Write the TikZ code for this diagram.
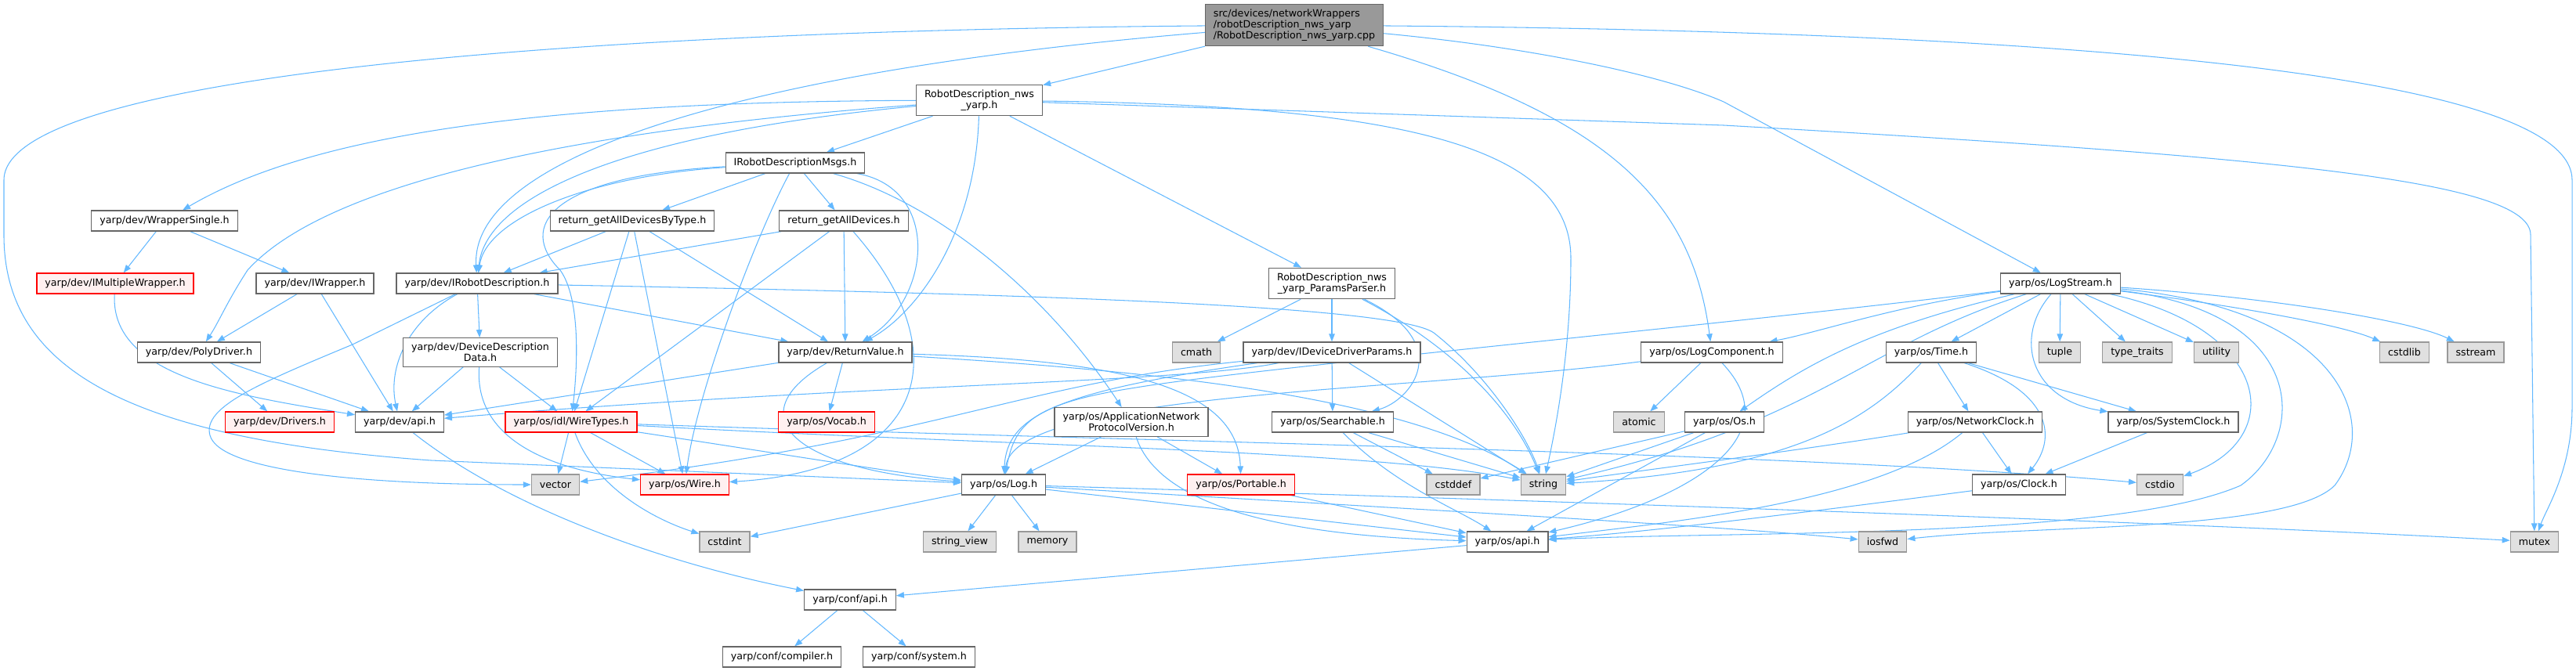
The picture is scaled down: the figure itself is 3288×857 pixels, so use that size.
\documentclass[tikz,border=0pt]{standalone}
\usepackage{fontspec}
\setmainfont{DejaVu Sans}
\usetikzlibrary{arrows.meta}
\pgfdeclarelayer{edges}
\pgfsetlayers{edges,main}
\definecolor{depblue}{HTML}{63B8FF}
\definecolor{boxgray}{HTML}{666666}
\definecolor{mainfill}{HTML}{999999}
\definecolor{sysfill}{HTML}{E0E0E0}
\definecolor{sysline}{HTML}{999999}
\definecolor{truncfill}{HTML}{FFF0F0}
\definecolor{truncline}{HTML}{FF0000}
\begin{document}
\begin{tikzpicture}
	  [
	    x                       = 0.02cm,
	    y                       = -0.02cm,
	    every node/.style       = {font=\fontsize{7.2}{8}\selectfont},
	    file/.style             = {draw=boxgray, fill=white, line width=0.7pt, inner xsep=6pt, inner ysep=3.6pt, minimum height=0.52cm, align=center},
	    mainfile/.style         = {file, fill=mainfill, align=left},
	    sysfile/.style          = {file, draw=sysline, fill=sysfill},
	    truncfile/.style        = {file, draw=truncline, fill=truncfill},
	    dep/.style              = {draw=depblue, line width=0.6pt, -{Triangle[length=0.2cm, width=0.15cm]}}
	  ]
	  \useasboundingbox (0,0) rectangle (3288,857);
	  \node[mainfile]  (main)       at (1652,32)  {src/devices/networkWrappers\\/robotDescription\_nws\_yarp\\/RobotDescription\_nws\_yarp.cpp};
	  \node[file]      (nws)        at (1250,128) {RobotDescription\_nws\\\_yarp.h};
	  \node[file]      (msgs)       at (1015,208) {IRobotDescriptionMsgs.h};
	  \node[file]      (wsingle)    at (210,282)  {yarp/dev/WrapperSingle.h};
	  \node[file]      (bytype)     at (807,282)  {return\_getAllDevicesByType.h};
	  \node[file]      (alldev)     at (1077,282) {return\_getAllDevices.h};
	  \node[truncfile] (imwrap)     at (147,362)  {yarp/dev/IMultipleWrapper.h};
	  \node[file]      (iwrap)      at (402,362)  {yarp/dev/IWrapper.h};
	  \node[file]      (irobot)     at (609,362)  {yarp/dev/IRobotDescription.h};
	  \node[file]      (params)     at (1700,362) {RobotDescription\_nws\\\_yarp\_ParamsParser.h};
	  \node[file]      (logstream)  at (2630,362) {yarp/os/LogStream.h};
	  \node[file]      (poly)       at (254,450)  {yarp/dev/PolyDriver.h};
	  \node[file]      (ddd)        at (613,450)  {yarp/dev/DeviceDescription\\Data.h};
	  \node[file]      (retval)     at (1079,450) {yarp/dev/ReturnValue.h};
	  \node[sysfile]   (cmath)      at (1527,450) {cmath};
	  \node[file]      (iddp)       at (1700,450) {yarp/dev/IDeviceDriverParams.h};
	  \node[file]      (logcomp)    at (2185,450) {yarp/os/LogComponent.h};
	  \node[file]      (time)       at (2465,450) {yarp/os/Time.h};
	  \node[sysfile]   (tuple)      at (2629,450) {tuple};
	  \node[sysfile]   (typetr)     at (2728,450) {type\_traits};
	  \node[sysfile]   (utility)    at (2829,450) {utility};
	  \node[sysfile]   (cstdlib)    at (3069,450) {cstdlib};
	  \node[sysfile]   (sstream)    at (3160,450) {sstream};
	  \node[truncfile] (drivers)    at (357,539)  {yarp/dev/Drivers.h};
	  \node[file]      (devapi)     at (510,539)  {yarp/dev/api.h};
	  \node[truncfile] (wiretypes)  at (729,539)  {yarp/os/idl/WireTypes.h};
	  \node[truncfile] (vocab)      at (1055,539) {yarp/os/Vocab.h};
	  \node[file]      (anpv)       at (1444,539) {yarp/os/ApplicationNetwork\\ProtocolVersion.h};
	  \node[file]      (searchable) at (1701,539) {yarp/os/Searchable.h};
	  \node[sysfile]   (atomic)     at (2092,539) {atomic};
	  \node[file]      (os)         at (2201,539) {yarp/os/Os.h};
	  \node[file]      (netclock)   at (2521,539) {yarp/os/NetworkClock.h};
	  \node[file]      (sysclock)   at (2774,539) {yarp/os/SystemClock.h};
	  \node[sysfile]   (vectorh)    at (709,619)  {vector};
	  \node[truncfile] (wire)       at (874,619)  {yarp/os/Wire.h};
	  \node[file]      (log)        at (1281,619) {yarp/os/Log.h};
	  \node[truncfile] (portable)   at (1584,619) {yarp/os/Portable.h};
	  \node[sysfile]   (cstddef)    at (1855,619) {cstddef};
	  \node[sysfile]   (stringh)    at (1970,619) {string};
	  \node[file]      (clock)      at (2577,619) {yarp/os/Clock.h};
	  \node[sysfile]   (cstdio)     at (2757,619) {cstdio};
	  \node[sysfile]   (cstdint)    at (925,692)  {cstdint};
	  \node[sysfile]   (strview)    at (1225,692) {string\_view};
	  \node[sysfile]   (memory)     at (1337,692) {memory};
	  \node[file]      (osapi)      at (1924,692) {yarp/os/api.h};
	  \node[sysfile]   (iosfwd)     at (2403,692) {iosfwd};
	  \node[sysfile]   (mutex)      at (3235,692) {mutex};
	  \node[file]      (confapi)    at (1085,766) {yarp/conf/api.h};
	  \node[file]      (compiler)   at (998,839)  {yarp/conf/compiler.h};
	  \node[file]      (system)     at (1173,839) {yarp/conf/system.h};

	  \begin{pgfonlayer}{edges}
	  \draw[dep] (main) -- (nws);
	  \draw[dep] (main) .. controls (950,90) and (600,200) .. (irobot);
	  \draw[dep] (main) .. controls (700,40) and (5,100) .. (5,230) -- (5,300) .. controls (5,470) and (160,560) .. (550,588) -- (log);
	  \draw[dep] (main) .. controls (2060,150) and (2160,260) .. (logcomp);
	  \draw[dep] (main) .. controls (1950,60) and (2120,95) .. (2200,130) -- (logstream);
	  \draw[dep] (main) .. controls (2600,40) and (3283,90) .. (3283,230) -- (3283,520) .. controls (3283,600) and (3250,650) .. (mutex);

	  \draw[dep] (nws) .. controls (700,130) and (400,170) .. (wsingle);
	  \draw[dep] (nws) .. controls (750,165) and (420,230) .. (316,345) .. controls (290,385) and (280,410) .. (poly);
	  \draw[dep] (nws) .. controls (800,170) and (620,250) .. (irobot);
	  \draw[dep] (nws) -- (msgs);
	  \draw[dep] (nws) .. controls (1245,300) and (1170,400) .. (retval);
	  \draw[dep] (nws) -- (params);
	  \draw[dep] (nws) .. controls (1800,135) and (2005,190) .. (2005,330) .. controls (2005,450) and (1985,550) .. (stringh);
	  \draw[dep] (nws) -- (2200,160) .. controls (2900,200) and (3230,230) .. (3230,300) -- (mutex);

	  \draw[dep] (msgs) -- (bytype);
	  \draw[dep] (msgs) -- (alldev);
	  \draw[dep] (msgs) .. controls (750,225) and (620,280) .. (irobot);
	  \draw[dep] (msgs) .. controls (700,225) and (660,290) .. (715,345) .. controls (740,380) and (738,460) .. (wiretypes);
	  \draw[dep] (msgs) .. controls (965,300) and (890,500) .. (wire);
	  \draw[dep] (msgs) .. controls (1200,260) and (1340,380) .. (anpv);
	  \draw[dep] (msgs) .. controls (1200,240) and (1190,380) .. (retval);

	  \draw[dep] (bytype) -- (irobot);
	  \draw[dep] (bytype) -- (wiretypes);
	  \draw[dep] (bytype) -- (wire);
	  \draw[dep] (bytype) -- (retval);
	  \draw[dep] (alldev) -- (irobot);
	  \draw[dep] (alldev) -- (wiretypes);
	  \draw[dep] (alldev) -- (retval);
	  \draw[dep] (alldev) .. controls (1225,450) and (1185,600) .. (wire);

	  \draw[dep] (wsingle) -- (imwrap);
	  \draw[dep] (wsingle) -- (iwrap);
	  \draw[dep] (imwrap) .. controls (140,480) and (300,505) .. (devapi);
	  \draw[dep] (iwrap) -- (poly);
	  \draw[dep] (iwrap) -- (devapi);
	  \draw[dep] (poly) -- (drivers);
	  \draw[dep] (poly) -- (devapi);

	  \draw[dep] (irobot) .. controls (1300,375) and (1780,390) .. (1830,425) .. controls (1900,480) and (1950,560) .. (stringh);
	  \draw[dep] (irobot) -- (retval);
	  \draw[dep] (irobot) -- (ddd);
	  \draw[dep] (irobot) .. controls (520,410) and (495,470) .. (devapi);
	  \draw[dep] (irobot) -- (450,440) .. controls (330,490) and (258,520) .. (268,556) .. controls (280,600) and (450,619) .. (vectorh);
	  \draw[dep] (ddd) -- (devapi);
	  \draw[dep] (ddd) .. controls (605,560) and (700,600) .. (wire);
	  \draw[dep] (ddd) -- (wiretypes);

	  \draw[dep] (retval) -- (devapi);
	  \draw[dep] (retval) -- (vocab);
	  \draw[dep] (retval) .. controls (940,530) and (1010,600) .. (log);
	  \draw[dep] (retval) .. controls (1450,460) and (1580,500) .. (portable);
	  \draw[dep] (retval) .. controls (1500,475) and (1800,510) .. (stringh);

	  \draw[dep] (params) -- (cmath);
	  \draw[dep] (params) -- (iddp);
	  \draw[dep] (params) .. controls (1860,440) and (1800,512) .. (searchable);
	  \draw[dep] (params) .. controls (1850,440) and (1930,520) .. (stringh);
	  \draw[dep] (iddp) .. controls (1500,490) and (1100,490) .. (devapi);
	  \draw[dep] (iddp) .. controls (1350,500) and (1285,530) .. (log);
	  \draw[dep] (iddp) .. controls (1300,490) and (1200,560) .. (vectorh);
	  \draw[dep] (iddp) -- (searchable);
	  \draw[dep] (iddp) -- (stringh);

	  \draw[dep] (logcomp) .. controls (1800,500) and (1295,500) .. (log);
	  \draw[dep] (logcomp) -- (atomic);
	  \draw[dep] (logcomp) .. controls (2290,560) and (2150,640) .. (osapi);

	  \draw[dep] (logstream) .. controls (2200,415) and (1600,470) .. (1450,495) .. controls (1320,515) and (1295,540) .. (log);
	  \draw[dep] (logstream) .. controls (2420,390) and (2320,425) .. (logcomp);
	  \draw[dep] (logstream) .. controls (2380,420) and (2300,470) .. (os);
	  \draw[dep] (logstream) -- (time);
	  \draw[dep] (logstream) .. controls (2570,430) and (2590,510) .. (sysclock);
	  \draw[dep] (logstream) -- (tuple);
	  \draw[dep] (logstream) -- (typetr);
	  \draw[dep] (logstream) -- (utility);
	  \draw[dep] (logstream) .. controls (2850,390) and (2990,415) .. (cstdlib);
	  \draw[dep] (logstream) .. controls (2900,380) and (3080,410) .. (sstream);
	  \draw[dep] (logstream) .. controls (2900,420) and (2920,560) .. (cstdio);
	  \draw[dep] (logstream) .. controls (2950,400) and (2945,560) .. (2860,620) .. controls (2700,690) and (2200,678) .. (osapi);
	  \draw[dep] (logstream) .. controls (2990,395) and (3040,540) .. (2980,620) .. controls (2920,680) and (2600,670) .. (iosfwd);
	  \draw[dep] (logstream) .. controls (2380,440) and (2320,540) .. (stringh);

	  \draw[dep] (time) -- (netclock);
	  \draw[dep] (time) -- (sysclock);
	  \draw[dep] (time) .. controls (2620,500) and (2625,560) .. (clock);
	  \draw[dep] (time) .. controls (2390,530) and (2300,600) .. (stringh);
	  \draw[dep] (netclock) .. controls (2300,575) and (2100,600) .. (stringh);
	  \draw[dep] (netclock) .. controls (2400,640) and (2150,665) .. (osapi);
	  \draw[dep] (netclock) -- (clock);
	  \draw[dep] (sysclock) -- (clock);
	  \draw[dep] (clock) .. controls (2300,655) and (2100,680) .. (osapi);

	  \draw[dep] (os) -- (stringh);
	  \draw[dep] (os) -- (cstddef);
	  \draw[dep] (os) -- (osapi);
	  \draw[dep] (searchable) -- (cstddef);
	  \draw[dep] (searchable) -- (stringh);
	  \draw[dep] (searchable) .. controls (1780,620) and (1860,650) .. (osapi);
	  \draw[dep] (anpv) -- (log);
	  \draw[dep] (anpv) -- (portable);
	  \draw[dep] (anpv) .. controls (1480,650) and (1650,685) .. (osapi);
	  \draw[dep] (portable) -- (osapi);

	  \draw[dep] (log) -- (strview);
	  \draw[dep] (log) -- (memory);
	  \draw[dep] (log) -- (cstdint);
	  \draw[dep] (log) -- (osapi);
	  \draw[dep] (log) .. controls (1800,650) and (2200,672) .. (iosfwd);
	  \draw[dep] (log) .. controls (2000,640) and (2800,668) .. (mutex);

	  \draw[dep] (wiretypes) -- (vectorh);
	  \draw[dep] (wiretypes) -- (wire);
	  \draw[dep] (wiretypes) .. controls (760,625) and (840,665) .. (cstdint);
	  \draw[dep] (wiretypes) .. controls (1000,580) and (1150,605) .. (log);
	  \draw[dep] (wiretypes) .. controls (1300,570) and (1750,575) .. (stringh);
	  \draw[dep] (wiretypes) .. controls (1500,565) and (2300,578) .. (cstdio);

	  \draw[dep] (devapi) .. controls (650,650) and (850,720) .. (confapi);
	  \draw[dep] (osapi) -- (confapi);
	  \draw[dep] (confapi) -- (compiler);
	  \draw[dep] (confapi) -- (system);
	  \end{pgfonlayer}
	\end{tikzpicture}
\end{document}
